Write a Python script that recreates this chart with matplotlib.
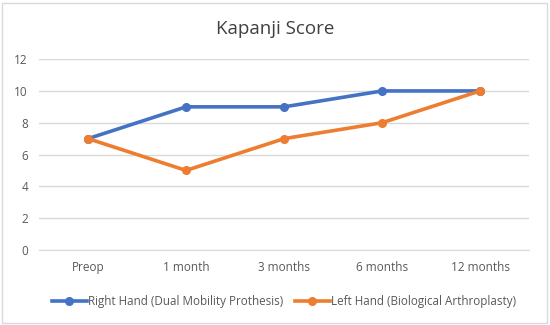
import matplotlib
matplotlib.use("Agg")
import matplotlib.pyplot as plt
from matplotlib.patches import Rectangle

categories = ["Preop", "1 month", "3 months", "6 months", "12 months"]
right_hand = [7, 9, 9, 10, 10]
left_hand = [7, 5, 7, 8, 10]
yticks = [0, 2, 4, 6, 8, 10, 12]

plt.rcParams['font.family'] = ['Open Sans', 'DejaVu Sans']

fig = plt.figure(figsize=(5.5, 3.25), dpi=100)
ax = fig.add_axes([0.071, 0.231, 0.891, 0.587])

x = range(len(categories))
ax.plot(x, right_hand, color='#4472C4', lw=2.6, marker='o', ms=5.5,
        label='Right Hand (Dual Mobility Prothesis)', zorder=3)
ax.plot(x, left_hand, color='#ED7D31', lw=2.6, marker='o', ms=5.5,
        label='Left Hand (Biological Arthroplasty)', zorder=3)

ax.set_xlim(-0.5, len(categories) - 0.5)
ax.set_ylim(0, 12)
ax.set_yticks(yticks)
ax.set_xticks(list(x))
ax.set_xticklabels(categories)
ax.grid(axis='y', color='#D9D9D9', lw=1)
ax.set_axisbelow(True)
for s in ['top', 'right', 'left']:
    ax.spines[s].set_visible(False)
ax.spines['bottom'].set_color('#D9D9D9')
ax.tick_params(length=0, labelsize=8.5, colors='#595959', pad=8)

fig.suptitle('Kapanji Score', y=0.94, fontsize=13.5, color='#404040')

ax.legend(loc='center', bbox_to_anchor=(0.5, -0.27), ncol=2, frameon=False,
          fontsize=8.4, labelcolor='#595959', handlelength=3, handletextpad=0.1,
          columnspacing=1.0)

fig.patches.append(Rectangle((0.004, 0.006), 0.99, 0.985, transform=fig.transFigure,
                             fill=False, ec='#D9D9D9', lw=1))

fig.savefig("out.png", dpi=100)
